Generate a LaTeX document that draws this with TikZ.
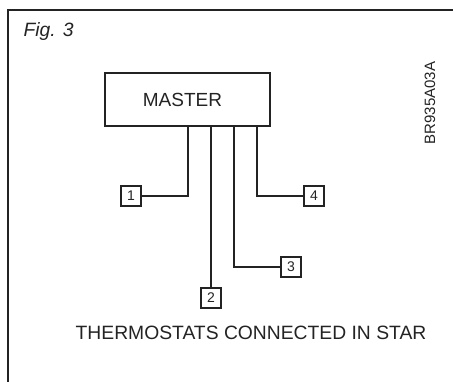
\documentclass[tikz,border=0pt]{standalone}
\usepackage{fontspec}
\setmainfont{Liberation Sans}
\usetikzlibrary{positioning,calc}
\definecolor{inkgray}{RGB}{35,35,35}
\tikzset{
  wire/.style={inkgray, line width=1.7pt},
  frm/.style={inkgray, line width=1.3pt},
  mst/.style={draw=inkgray, line width=1.6pt, minimum width=165pt, minimum height=53pt,
              inner sep=0pt, font=\fontsize{19}{22}\selectfont, text=inkgray},
  tbox/.style={draw=inkgray, line width=1.5pt, minimum size=20pt, inner sep=0pt,
               font=\fontsize{14}{16}\selectfont, text=inkgray},
  lbl/.style={font=\fontsize{19.3}{22}\selectfont, text=inkgray},
}

\begin{document}
\begin{tikzpicture}[x=1pt, y=-1pt]
    \useasboundingbox (0,0) rectangle (453,382);
    \draw[frm] (8,384) -- (8,10) -- (455,10);
    \node[lbl, anchor=west] (fig) at (20,32) {\itshape Fig. 3};
    \node[font=\fontsize{15}{17}\selectfont, text=inkgray, rotate=90] (code) at (430,103) {BR935A03A};

    \node[mst] (master) at (187.5,99.5) {\hspace*{-10pt}MASTER};
    \coordinate (w1) at (188,126);
    \coordinate (w2) at (211,126);
    \coordinate (w3) at (234,126);
    \coordinate (w4) at (257,126);

    \node[tbox] (t1) at (131,196) {1};
    \node[tbox] (t2) at (211,298) {2};
    \node[tbox] (t3) at (291,267) {3};
    \node[tbox] (t4) at (314,196) {4};

    \draw[wire] (w1) |- (t1.east);
    \draw[wire] (w2) -- (t2.north);
    \draw[wire] (w3) |- (t3.west);
    \draw[wire] (w4) |- (t4.west);

    \node[lbl] (title) at (251,333) {THERMOSTATS CONNECTED IN STAR};
\end{tikzpicture}
\end{document}
